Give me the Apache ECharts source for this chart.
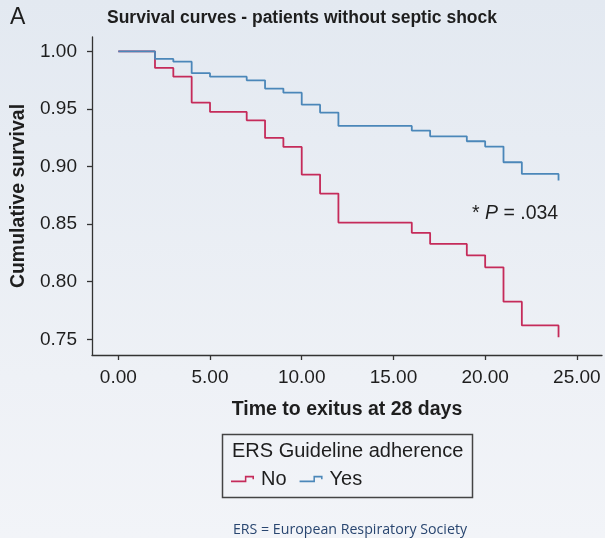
<!DOCTYPE html>
<html>
<head>
<meta charset="utf-8">
<script src="https://cdn.jsdelivr.net/npm/echarts@6/dist/echarts.min.js"></script>
<style>
  html, body { margin: 0; padding: 0; }
  body { width: 605px; height: 538px; background: linear-gradient(to bottom, #e3e9f1 0%, #eef1f6 70%, #f2f4f8 100%); }
  #chart { width: 605px; height: 538px; }
</style>
</head>
<body>
<div id="chart"></div>
<script>
// Kaplan-Meier step data: [time (days), cumulative survival]
const noTimes = [0, 2, 3, 4, 5, 7, 8, 9, 10, 11, 12, 16, 17, 19, 20, 21, 22, 24];
const noSurvival = [1.0, 0.9856, 0.978, 0.9555, 0.9474, 0.9401, 0.9248, 0.917, 0.893, 0.8765, 0.8513, 0.8424, 0.8328, 0.8229, 0.8125, 0.7827, 0.7621, 0.7517];
const yesTimes = [0, 2, 3, 4, 5, 7, 8, 9, 10, 11, 12, 16, 17, 19, 20, 21, 22, 24];
const yesSurvival = [1.0, 0.9934, 0.991, 0.981, 0.978, 0.9748, 0.9676, 0.9641, 0.9537, 0.9468, 0.9352, 0.9312, 0.9262, 0.9219, 0.9173, 0.9037, 0.8936, 0.8878];
const xTicks = [0, 5, 10, 15, 20, 25];
const yTicks = [0.75, 0.80, 0.85, 0.90, 0.95, 1.00];
const seriesNames = ['No', 'Yes'];

const RED = '#c52b5a';
const BLUE = '#4b87b9';
const INK = '#1e1e1e';
const FONT = '"Liberation Sans", Arial, Helvetica, sans-serif';

const stepIcon = 'path://M0,14 L41,14 L41,0 L68,0 L68,10 L63.5,10 L63.5,4.5 L45.5,4.5 L45.5,18.5 L0,18.5 Z';

const chart = echarts.init(document.getElementById('chart'), null, { renderer: 'canvas' });
chart.setOption({
  backgroundColor: 'transparent',
  animation: false,
  textStyle: { fontFamily: FONT },
  title: {
    text: 'Survival curves - patients without septic shock',
    left: 107, top: 9, padding: 0,
    textStyle: { fontFamily: FONT, fontSize: 17.5, fontWeight: 'bold', color: INK }
  },
  grid: { left: 92, right: 3, top: 37, bottom: 183, containLabel: false },
  xAxis: {
    type: 'value',
    min: -1.434, max: 26.37,
    name: 'Time to exitus at 28 days',
    nameLocation: 'middle', nameGap: 45,
    nameTextStyle: { fontFamily: FONT, fontSize: 19.5, fontWeight: 'bold', color: INK },
    axisLine: { show: true, onZero: false, lineStyle: { color: '#333', width: 1.3 } },
    axisTick: { show: true, length: 5, customValues: xTicks, lineStyle: { color: '#333', width: 1.3 } },
    axisLabel: { customValues: xTicks, margin: 13, fontFamily: FONT, fontSize: 19, color: INK,
      formatter: v => v.toFixed(2) },
    splitLine: { show: false }
  },
  yAxis: {
    type: 'value',
    min: 0.7364, max: 1.0124,
    name: 'Cumulative survival',
    nameLocation: 'middle', nameGap: 59, nameRotate: 90,
    nameTextStyle: { fontFamily: FONT, fontSize: 19.5, fontWeight: 'bold', color: INK },
    axisLine: { show: true, onZero: false, lineStyle: { color: '#333', width: 1.3 } },
    axisTick: { show: true, length: 5, customValues: yTicks, lineStyle: { color: '#333', width: 1.3 } },
    axisLabel: { customValues: yTicks, margin: 15, fontFamily: FONT, fontSize: 19, color: INK,
      formatter: v => v.toFixed(2) },
    splitLine: { show: false }
  },
  legend: {
    data: seriesNames,
    left: 231, top: 469,
    orient: 'horizontal',
    icon: stepIcon,
    itemWidth: 23, itemHeight: 7,
    itemGap: 13,
    padding: 0,
    itemStyle: { borderWidth: 0 },
    textStyle: { fontFamily: FONT, fontSize: 20, color: INK, padding: [0, 0, 0, 2] }
  },
  graphic: [
    { type: 'text', left: 10, top: 6, style: { text: 'A', fontFamily: FONT, fontSize: 23, fill: INK } },
    { type: 'rect', shape: { x: 222.5, y: 434.5, width: 250, height: 63 },
      style: { fill: 'none', stroke: '#444', lineWidth: 1.5 } },
    { type: 'text', left: 232, top: 441, style: { text: 'ERS Guideline adherence', fontFamily: FONT, fontSize: 20, fill: INK } },
    { type: 'text', left: 472, top: 204, style: {
        text: '{a|* }{b|P}{a| = .034}',
        rich: {
          a: { fontFamily: FONT, fontSize: 19.5, fill: INK },
          b: { fontFamily: FONT, fontSize: 19.5, fontStyle: 'italic', fill: INK }
        } } },
    { type: 'text', x: 350, y: 530, style: { text: 'ERS = European Respiratory Society', fontFamily: '"Open Sans", sans-serif',
        fontSize: 14.2, fill: '#294670', align: 'center', verticalAlign: 'middle' } }
  ],
  series: [
    {
      name: seriesNames[0], type: 'line', step: 'end', symbol: 'none',
      data: noTimes.map((t, i) => [t, noSurvival[i]]),
      lineStyle: { color: RED, width: 1.8 }, itemStyle: { color: RED }
    },
    {
      name: seriesNames[1], type: 'line', step: 'end', symbol: 'none',
      data: yesTimes.map((t, i) => [t, yesSurvival[i]]),
      lineStyle: { color: BLUE, width: 1.8 }, itemStyle: { color: BLUE }
    }
  ]
});
</script>
</body>
</html>
